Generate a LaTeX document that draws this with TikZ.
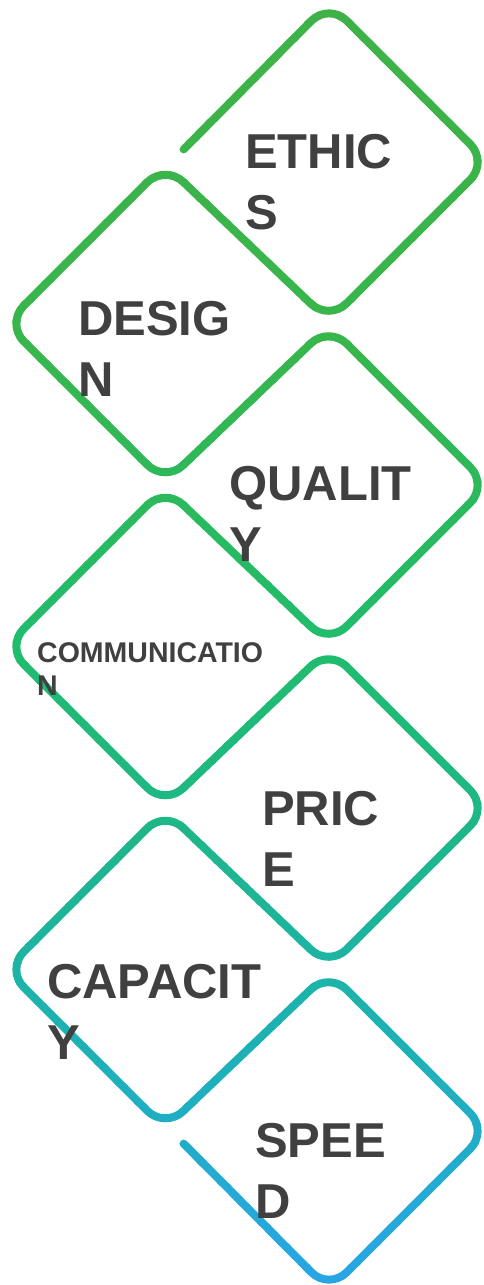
\documentclass[tikz,border=0pt]{standalone}
\usepackage{fontspec}
\setmainfont{Liberation Sans}
\definecolor{s0}{RGB}{62,178,72}
\definecolor{s1}{RGB}{55,182,76}
\definecolor{s2}{RGB}{32,188,110}
\definecolor{s3}{RGB}{30,182,140}
\definecolor{s4}{RGB}{28,178,178}
\definecolor{s5}{RGB}{40,165,230}
\definecolor{txtgray}{RGB}{64,64,64}
\newcommand\snakepath{(183.6,149.4) -- (329,3) -- (488,162) -- (329,321)
 -- (165,164.5) -- (6,323.5) -- (165,482.5)
 -- (329,326) -- (488,485) -- (329,644)
 -- (165,487.5) -- (6,646.5) -- (165,805.5)
 -- (329,649) -- (488,808) -- (329,967)
 -- (165,810.5) -- (6,969.5) -- (165,1128.5)
 -- (329,972) -- (488,1131) -- (329,1290) -- (183.6,1143.6)}
\newcommand\getbandcolor[1]{%
 \pgfmathsetmacro\yv{#1}%
 \ifdim\yv pt<350pt
   \pgfmathsetmacro\pp{\yv/3.5}\colorlet{bandc}{s1!\pp!s0}%
 \else\ifdim\yv pt<650pt
   \pgfmathsetmacro\pp{(\yv-350)/3}\colorlet{bandc}{s2!\pp!s1}%
 \else\ifdim\yv pt<850pt
   \pgfmathsetmacro\pp{(\yv-650)/2}\colorlet{bandc}{s3!\pp!s2}%
 \else\ifdim\yv pt<1030pt
   \pgfmathsetmacro\pp{(\yv-850)/1.8}\colorlet{bandc}{s4!\pp!s3}%
 \else
   \pgfmathsetmacro\pp{min(100,(\yv-1030)/2.55)}\colorlet{bandc}{s5!\pp!s4}%
 \fi\fi\fi\fi}
\tikzset{
  snakeline/.style={line width=8pt, rounded corners=25pt, line cap=round, line join=round},
  lbl/.style={anchor=base west, inner sep=0pt, text=txtgray, font=\bfseries\fontsize{49}{61}\selectfont},
  lblsmall/.style={lbl, font=\bfseries\fontsize{28.5}{33}\selectfont}
}
\begin{document}
\begin{tikzpicture}[x=1pt, y=-1pt]
\useasboundingbox (0,0) rectangle (483,1285);
\fill[white] (0,0) rectangle (483,1285);
\foreach \i in {0,...,63}{
  \pgfmathsetmacro\ya{\i*20.08-1}
  \pgfmathsetmacro\yb{\ya+22}
  \pgfmathsetmacro\yc{\i*20.08+10.04}
  \getbandcolor{\yc}
  \begin{scope}
    \clip (-10,\ya) rectangle (500,\yb);
    \draw[snakeline, draw=bandc] \snakepath;
  \end{scope}
}
\node[lbl] (ethics) at (245,168) {\parbox[t]{220pt}{ETHIC\\S}};
\node[lbl] (design) at (78,335) {\parbox[t]{220pt}{DESIG\\N}};
\node[lbl] (quality) at (229,500) {\parbox[t]{220pt}{QUALIT\\Y}};
\node[lblsmall] (communication) at (37,662) {\parbox[t]{260pt}{COMMUNICATIO\\N}};
\node[lbl] (price) at (262,825) {\parbox[t]{220pt}{PRIC\\E}};
\node[lbl] (capacity) at (47,998) {\parbox[t]{240pt}{CAPACIT\\Y}};
\node[lbl] (speed) at (255,1157) {\parbox[t]{220pt}{SPEE\\D}};
\end{tikzpicture}
\end{document}
